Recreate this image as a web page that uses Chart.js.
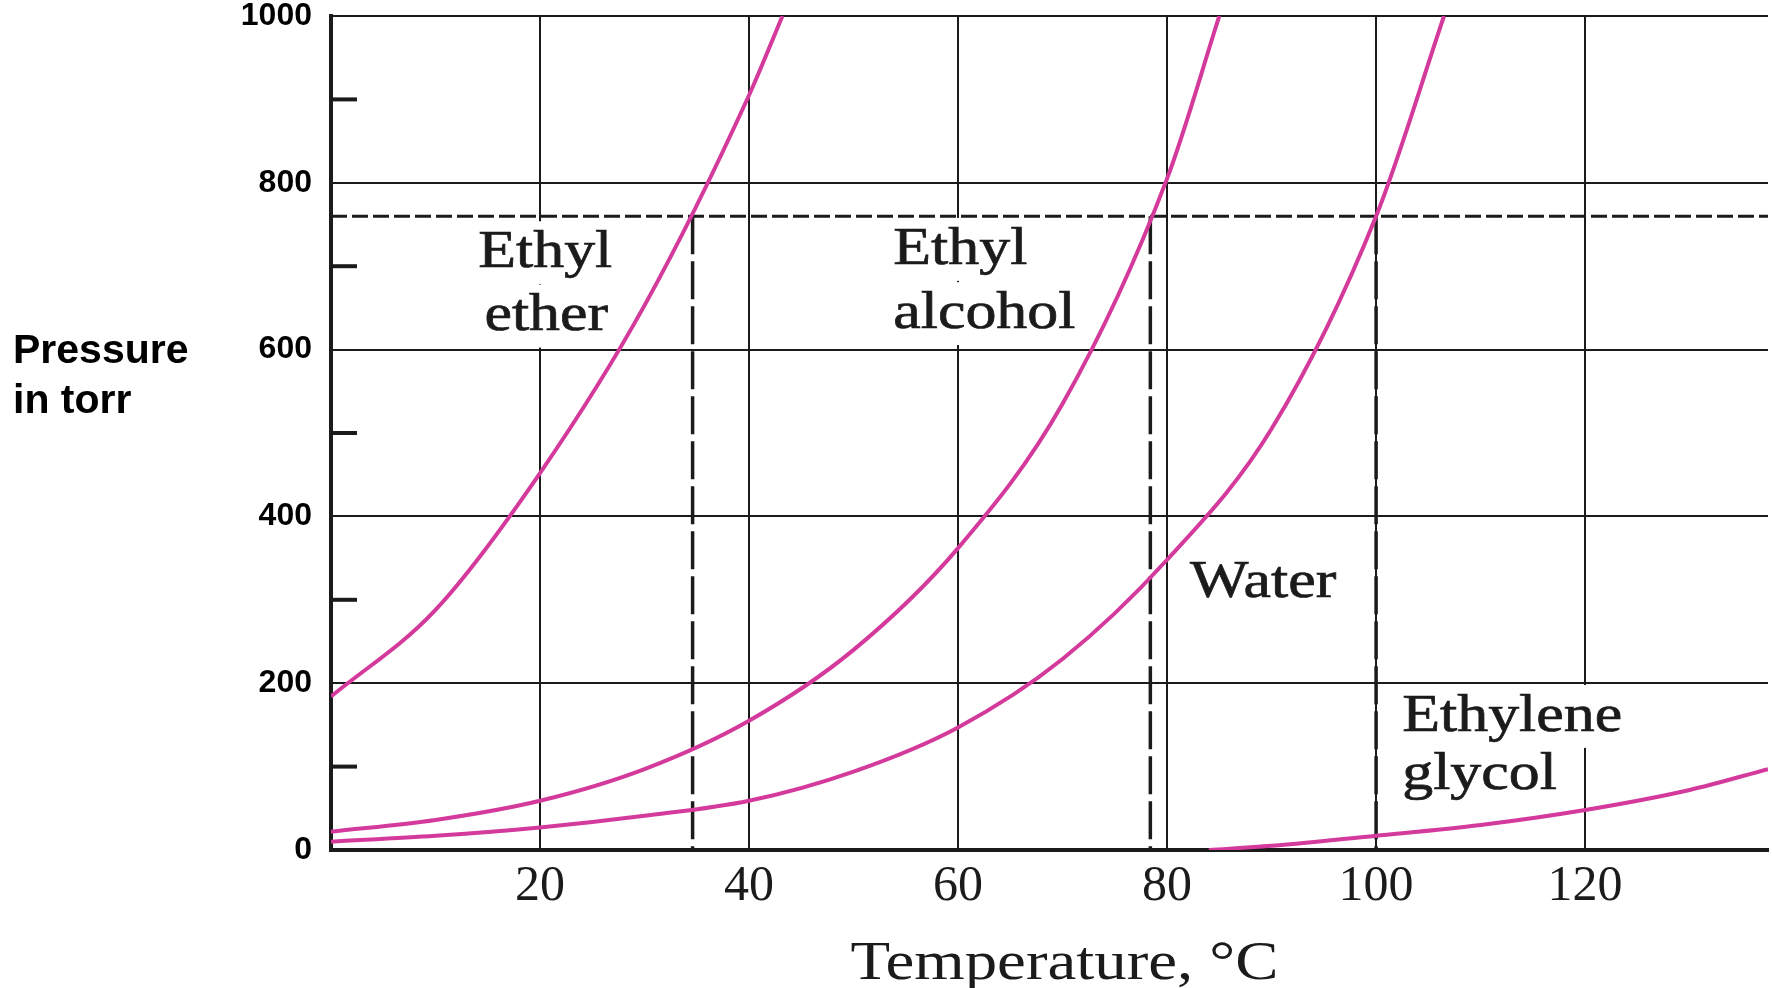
<!DOCTYPE html>
<html lang="en">
<head>
<meta charset="UTF-8" />
<title>Vapor pressure vs temperature</title>
<script src="https://cdn.jsdelivr.net/npm/chart.js"></script>
<style>
  html, body { margin: 0; padding: 0; background: #fff; }
  #wrap { width: 1772px; height: 988px; position: relative; }
</style>
</head>
<body>
<div id="wrap"><canvas id="vp"></canvas></div>

<script>
// curves (temperature in °C, pressure in torr)
const etherT = [0, 10, 20, 30, 40, 43.2];
const etherP = [184, 288, 452, 653, 905, 1000];

const alcoholT = [0, 10, 20, 30, 40, 50, 60, 70, 80, 85];
const alcoholP = [22, 36, 59, 97, 155, 240, 362, 535, 805, 1000];

const waterT = [0, 10, 20, 30, 40, 50, 60, 70, 80, 90, 100, 106.5];
const waterP = [10, 17, 27, 41, 59, 94, 147, 229, 348, 505, 760, 1000];

const glycolT = [84, 90, 100, 110, 120, 130, 137.5];
const glycolP = [0, 5, 17, 30, 48, 72, 97];

// normal boiling points and the 760 torr line
const boilingPoints = [34.6, 78.4, 100];
const stdPressure = 760;

// axes
const xMin = 0, xMax = 137.5;
const yMin = 0, yMax = 1000;
const xTicks = [20, 40, 60, 80, 100, 120];
const yTicks = [0, 200, 400, 600, 800, 1000];
const yMinorTicks = [100, 300, 500, 700, 900];

const xTitle = 'Temperature, °C';
const yTitle = ['Pressure', 'in torr'];

// curve names, anchored in data units (t = °C, p = torr at the text baseline)
const curveLabels = [
  { text: 'Ethyl',    t: 20.5,  p: 699, align: 'center' },
  { text: 'ether',    t: 20.6,  p: 623, align: 'center' },
  { text: 'Ethyl',    t: 53.8,  p: 703, align: 'left' },
  { text: 'alcohol',  t: 53.8,  p: 626, align: 'left' },
  { text: 'Water',    t: 82.2,  p: 303, align: 'left' },
  { text: 'Ethylene', t: 102.5, p: 143, align: 'left' },
  { text: 'glycol',   t: 102.5, p: 73,  align: 'left' }
];

const ink = '#1b1b1b';
const curveColor = '#d43a9b';
const serif = '"Liberation Serif", "Times New Roman", serif';
const labelSize = 52;
const stretch = 1.19;   // the scanned lettering is a bit wider than Times

function pts(xs, ys) {
  return xs.map((x, i) => ({ x: x, y: ys[i] }));
}

function curve(xs, ys) {
  return {
    data: pts(xs, ys),
    borderColor: curveColor,
    borderWidth: 4,
    pointRadius: 0,
    cubicInterpolationMode: 'monotone',
    fill: false
  };
}

function dashed(data, dash, width) {
  return {
    data: data,
    borderColor: ink,
    borderWidth: width,
    borderDash: dash,
    pointRadius: 0,
    fill: false
  };
}

const datasets = [
  curve(etherT, etherP),
  curve(alcoholT, alcoholP),
  curve(waterT, waterP),
  curve(glycolT, glycolP)
];
boilingPoints.forEach(t => {
  datasets.push(dashed([{ x: t, y: stdPressure }, { x: t, y: yMin }], [38, 7], 3.5));
});
datasets.push(dashed([{ x: xMin, y: stdPressure }, { x: xMax, y: stdPressure }], [16, 5], 3));

function labelBox(ctx, lab, x, y) {
  const w = ctx.measureText(lab.text).width * stretch;
  const px = x.getPixelForValue(lab.t);
  const py = y.getPixelForValue(lab.p);
  const left = lab.align === 'center' ? px - w / 2 : px;
  return { left, py, w };
}

const textPlugin = {
  id: 'figureText',
  beforeDatasetsDraw(chart) {
    // white patches behind the curve names, like the printed figure
    const { ctx, scales: { x, y } } = chart;
    ctx.save();
    ctx.font = labelSize + 'px ' + serif;
    ctx.fillStyle = '#fff';
    curveLabels.forEach(lab => {
      const b = labelBox(ctx, lab, x, y);
      ctx.fillRect(b.left - 8, b.py - 0.88 * labelSize, b.w + 16, 1.21 * labelSize);
    });
    ctx.restore();
  },
  afterDatasetsDraw(chart) {
    const { ctx, scales: { x, y } } = chart;
    ctx.save();
    ctx.font = labelSize + 'px ' + serif;
    ctx.fillStyle = ink;
    ctx.strokeStyle = ink;
    ctx.lineWidth = 0.7;
    ctx.textAlign = 'left';
    ctx.textBaseline = 'alphabetic';
    curveLabels.forEach(lab => {
      const b = labelBox(ctx, lab, x, y);
      ctx.save();
      ctx.translate(b.left, b.py);
      ctx.scale(stretch, 1);
      ctx.fillText(lab.text, 0, 0);
      ctx.strokeText(lab.text, 0, 0);
      ctx.restore();
    });

    // short minor ticks on the inside of the pressure axis
    ctx.lineWidth = 4;
    yMinorTicks.forEach(v => {
      const py = y.getPixelForValue(v);
      ctx.beginPath();
      ctx.moveTo(x.left, py);
      ctx.lineTo(x.left + 26, py);
      ctx.stroke();
    });
    ctx.restore();
  },
  afterDraw(chart) {
    const { ctx, chartArea } = chart;
    ctx.save();
    ctx.fillStyle = '#000';
    ctx.textBaseline = 'alphabetic';

    // horizontal y title on the left
    ctx.font = 'bold 41px "Liberation Sans", Arial, sans-serif';
    ctx.textAlign = 'left';
    ctx.fillText(yTitle[0], 13, 363);
    ctx.fillText(yTitle[1], 13, 413);

    // x title
    ctx.font = '54px ' + serif;
    ctx.fillStyle = ink;
    const cx = (chartArea.left + chartArea.right) / 2 + 15;
    ctx.translate(cx, chart.height - 9);
    ctx.scale(1.2, 1);
    ctx.textAlign = 'center';
    ctx.fillText(xTitle, 0, 0);
    ctx.restore();
  }
};

new Chart(document.getElementById('vp'), {
  type: 'line',
  data: { datasets },
  plugins: [textPlugin],
  options: {
    responsive: true,
    maintainAspectRatio: false,
    animation: false,
    layout: { padding: { top: 16, right: 4, bottom: 0, left: 0 } },
    plugins: {
      legend: { display: false },
      tooltip: { enabled: false }
    },
    scales: {
      x: {
        type: 'linear',
        min: xMin,
        max: xMax,
        afterBuildTicks: s => { s.ticks = xTicks.map(v => ({ value: v })); },
        afterFit: s => { s.height = 138; s.paddingLeft = 0; s.paddingRight = 0; },
        grid: { color: ink, lineWidth: 2, drawTicks: false },
        border: { color: ink, width: 4 },
        ticks: {
          color: ink,
          padding: 12,
          maxRotation: 0,
          autoSkip: false,
          callback: v => String(v),
          font: { family: serif, size: 50, lineHeight: 1 }
        }
      },
      y: {
        type: 'linear',
        min: yMin,
        max: yMax,
        afterBuildTicks: s => { s.ticks = yTicks.map(v => ({ value: v })); },
        afterFit: s => { s.width = 331; s.paddingTop = 0; s.paddingBottom = 0; },
        grid: { color: ink, lineWidth: 2, drawTicks: false },
        border: { color: ink, width: 4 },
        ticks: {
          color: '#000',
          padding: 19,
          autoSkip: false,
          callback: v => String(v),
          font: { family: '"Liberation Sans", Arial, sans-serif', size: 32, weight: 'bold', lineHeight: 1 }
        }
      }
    }
  }
});
</script>
</body>
</html>
